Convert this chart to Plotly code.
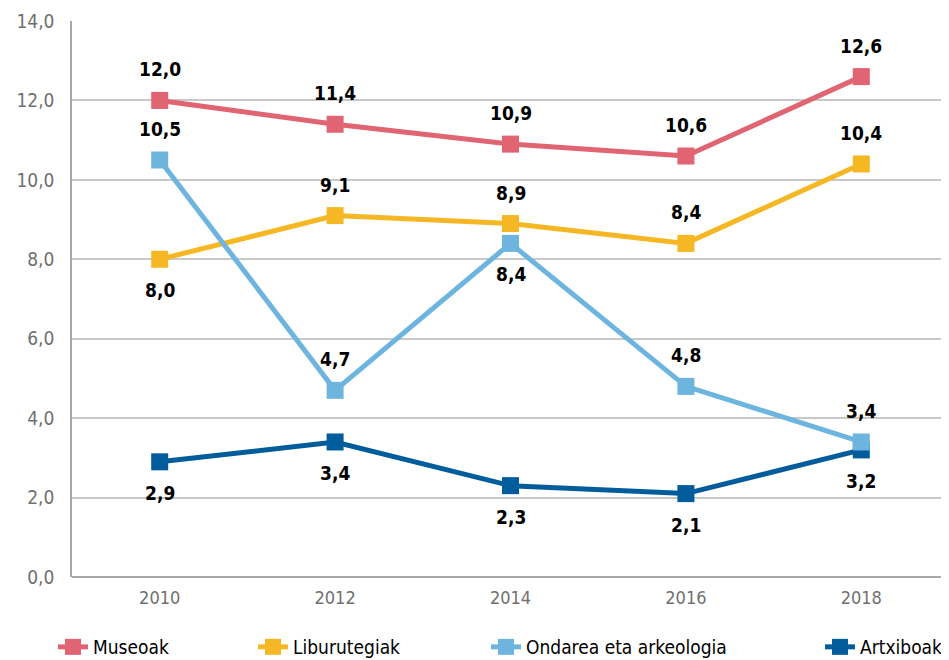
import plotly.graph_objects as go

years = [2010, 2012, 2014, 2016, 2018]
museoak = [12.0, 11.4, 10.9, 10.6, 12.6]
liburutegiak = [8.0, 9.1, 8.9, 8.4, 10.4]
ondarea = [10.5, 4.7, 8.4, 4.8, 3.4]
artxiboak = [2.9, 3.4, 2.3, 2.1, 3.2]

# label side per point: 1 above, -1 below
museoak_pos = [1, 1, 1, 1, 1]
liburutegiak_pos = [-1, 1, 1, 1, 1]
ondarea_pos = [1, 1, -1, 1, 1]
artxiboak_pos = [-1, -1, -1, -1, -1]

# (name, values, label side, colour, legend id, legend x in px)
series = [
    ("Museoak", museoak, museoak_pos, "#E06472", "legend", 45),
    ("Liburutegiak", liburutegiak, liburutegiak_pos, "#F5B824", "legend2", 245),
    ("Artxiboak", artxiboak, artxiboak_pos, "#015C9C", "legend4", 812),
    ("Ondarea eta arkeologia", ondarea, ondarea_pos, "#6DB5DE", "legend3", 478),
]

W, H = 941, 652
font_family = "DejaVu Sans Condensed, Liberation Sans Narrow, sans-serif"

fig = go.Figure()
annotations = []
legends = {}
for name, vals, pos, color, leg, lx in series:
    fig.add_trace(go.Scatter(
        x=years, y=vals, name=name, mode="lines+markers",
        line=dict(color=color, width=5),
        marker=dict(symbol="square", size=17, color=color),
        legend=leg, showlegend=True,
    ))
    legends[leg] = dict(
        orientation="h", xref="container", x=lx / W, xanchor="left",
        yref="container", y=13 / H, yanchor="middle",
        font=dict(family=font_family, size=19, color="black"),
        itemwidth=30, bgcolor="rgba(0,0,0,0)",
    )
    for x, v, p in zip(years, vals, pos):
        annotations.append(dict(
            x=x, y=v, text=f"{v:.1f}".replace(".", ","),
            showarrow=False, yshift=31 * p,
            font=dict(family=font_family, size=19, color="black", weight="bold"),
        ))

fig.update_layout(
    width=W, height=H,
    margin=dict(l=64, r=0, t=13, b=83),
    plot_bgcolor="white", paper_bgcolor="white",
    separators=",.",
    font=dict(family=font_family),
    annotations=annotations,
    **legends,
    xaxis=dict(
        range=[2009, 2019], tickvals=years, showgrid=False, showline=False,
        zeroline=False, tickfont=dict(size=18, color="#707070"),
        ticks="", ticklabelstandoff=8, automargin=False,
    ),
    yaxis=dict(
        range=[0, 14], dtick=2, tickformat=".1f",
        showgrid=True, gridcolor="#C8C8C8", gridwidth=1.5,
        showline=True, linecolor="#A8A8A8", linewidth=1.5,
        zeroline=True, zerolinecolor="#A8A8A8", zerolinewidth=1.5,
        tickfont=dict(size=19, color="#707070"),
        ticks="", ticklabelstandoff=12, automargin=False,
    ),
)

fig.write_html("out.html")
